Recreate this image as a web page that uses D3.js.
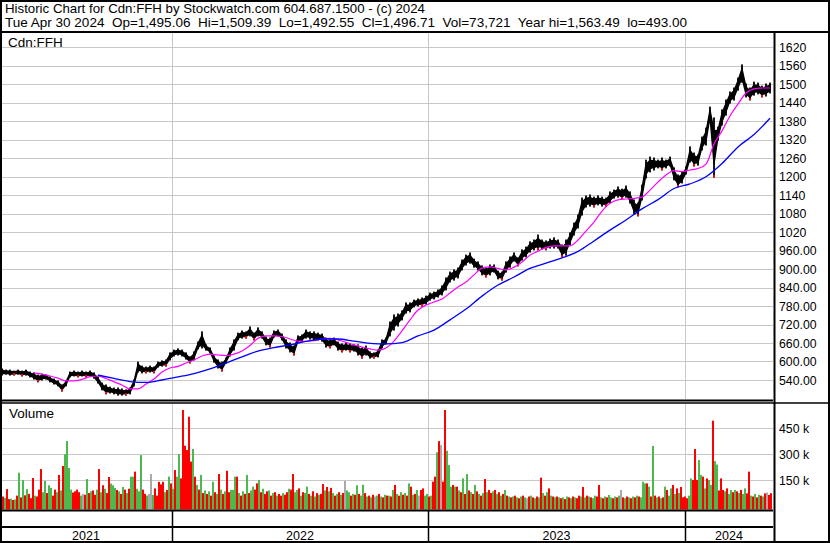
<!DOCTYPE html>
<html><head><meta charset="utf-8">
<script src="https://cdn.jsdelivr.net/npm/d3@7"></script>
<style>html,body{margin:0;padding:0;background:#fff}svg{display:block}text{font-family:"Liberation Sans",Arial,sans-serif;fill:#000}</style>
</head><body><svg id="c" width="830" height="543"></svg>
<script>
const headerLines = [
  "Historic Chart for Cdn:FFH by Stockwatch.com 604.687.1500 - (c) 2024",
  "Tue Apr 30 2024  Op=1,495.06  Hi=1,509.39  Lo=1,492.55  Cl=1,496.71  Vol=73,721  Year hi=1,563.49  lo=493.00"
];
const symbolLabel = "Cdn:FFH";
const volumeLabel = "Volume";
const yearLabels = ["2021", "2022", "2023", "2024"];
const yearStartBars = [0, 86, 214, 342.5];
const barCount = 386;
const priceTicks = [540,600,660,720,780,840,900,960,1020,1080,1140,1200,1260,1320,1380,1440,1500,1560,1620];
const priceTickLabels = ["540.00","600.00","660.00","720.00","780.00","840.00","900.00","960.00","1020","1080","1140","1200","1260","1320","1380","1440","1500","1560","1620"];
const volTicks = [150, 300, 450];
const volTickLabels = ["150 k", "300 k", "450 k"];

// price points: one per two bars
const priceHigh = [
576,572,572,569,572,569,572,566,563,556,
559,556,550,543,537,524,537,566,569,566,
569,566,569,563,550,530,524,517,514,514,
511,508,514,540,598,585,582,585,582,598,
602,605,628,637,641,637,628,615,631,663,
696,654,644,618,605,598,611,644,670,692,
699,696,712,692,709,696,679,676,699,702,
689,670,660,650,683,686,702,696,696,692,
689,676,670,676,663,657,660,657,654,654,
644,650,631,628,637,670,676,728,751,754,
764,790,790,799,803,806,812,822,825,832,
845,871,890,897,903,929,945,952,932,923,
910,903,913,913,893,890,923,939,952,936,
962,971,988,994,1010,994,991,997,1001,994,
978,994,1017,1049,1075,1130,1137,1140,1133,1137,
1133,1130,1150,1156,1166,1159,1169,1150,1124,1114,
1172,1253,1263,1260,1253,1260,1253,1263,1228,1205,
1215,1231,1296,1276,1270,1328,1357,1425,1390,1360,
1416,1448,1474,1487,1519,1562,1500,1487,1506,1503,
1493,1500,1503];
const priceLow = [
556,559,556,556,559,553,556,550,543,534,
540,543,534,527,521,504,521,550,553,550,
553,550,553,546,530,508,495,498,495,491,
491,491,495,521,566,563,563,566,563,582,
585,585,605,618,621,618,608,595,605,641,
644,637,628,598,579,569,595,618,637,670,
676,676,683,670,683,676,654,647,679,683,
670,644,631,621,663,666,676,673,670,670,
666,647,644,654,637,631,637,631,634,621,
611,621,611,611,615,644,657,683,702,715,
735,757,761,777,780,780,786,799,803,809,
816,832,858,864,871,897,913,919,906,897,
881,874,881,890,868,864,890,906,926,910,
929,939,955,962,962,965,962,968,968,968,
939,945,978,1010,1033,1075,1101,1104,1101,1108,
1104,1104,1114,1130,1133,1127,1133,1114,1078,1072,
1124,1195,1215,1221,1228,1221,1228,1234,1189,1166,
1179,1208,1247,1234,1237,1286,1302,1383,1198,1318,
1367,1399,1438,1448,1480,1506,1458,1448,1464,1468,
1458,1461,1471];

// moving averages
const maFast = [
563,559,553,546,537,537,542,551,553,
545,534,524,511,511,527,543,566,579,
584,595,605,618,624,621,619,624,634,
652,675,683,683,681,673,666,665,668,
673,675,670,662,654,647,641,637,644,
666,699,735,767,783,793,803,822,842,
858,881,903,907,902,897,906,923,945,
958,970,975,975,975,994,1023,1052,1088,
1113,1124,1127,1129,1133,1156,1182,1205,1219,
1216,1221,1226,1240,1305,1348,1396,1435,1471,
1484,1487,1487];
const maFastStartBar = 17, maFastStepBars = 4;
const maSlow = [
556,545,535,532,540,550,561,576,595,615,
634,645,654,665,673,673,666,659,657,661,
683,702,735,770,812,848,874,902,919,936,
957,991,1026,1059,1095,1125,1161,1176,1199,1242,
1296,1336,1389];
const maSlowStartBar = 49, maSlowStepBars = 8;

// volume (thousands) per bar, and bar colour code (g up, r down, n unchanged)
const volume = [
45,55,48,98,40,42,35,38,60,193,
50,150,62,98,70,45,162,60,55,95,
214,80,145,75,120,105,60,95,80,180,
90,232,300,376,220,95,78,85,95,80,
60,70,65,156,75,85,90,65,95,214,
80,120,100,75,168,130,120,105,93,85,
70,110,95,75,100,170,170,199,100,85,
295,95,70,60,70,185,64,102,60,140,
125,140,80,93,170,131,100,208,170,301,
160,556,349,324,517,257,330,170,122,95,
180,75,90,70,85,60,141,80,70,185,
95,70,85,204,80,93,93,170,170,75,
60,85,70,180,75,90,112,95,131,151,
80,100,70,85,90,60,75,80,60,70,
60,75,65,80,100,95,185,80,93,102,
60,80,75,112,70,60,85,55,75,65,
70,127,90,110,85,105,75,60,70,80,
65,75,145,90,80,60,70,65,120,70,
60,123,75,55,60,50,65,55,60,70,
55,50,65,60,60,55,93,122,70,60,
80,65,75,60,131,112,65,70,93,60,
93,102,60,70,55,60,141,170,311,376,
353,141,556,320,237,112,122,112,112,90,
80,160,70,185,90,80,70,122,85,70,
60,75,156,80,93,75,85,93,70,80,
60,70,93,60,55,50,55,60,50,45,
55,60,50,45,55,60,50,45,55,50,
164,75,60,80,102,60,55,50,55,50,
45,50,40,55,50,45,55,50,45,60,
55,110,50,60,55,50,45,60,55,122,
50,45,55,50,64,50,45,55,50,60,
93,50,45,55,50,45,55,50,60,55,
50,141,131,131,112,55,348,60,50,55,
45,50,112,93,60,102,122,70,102,75,
110,50,55,45,60,160,151,330,151,266,
180,170,102,160,151,122,494,260,240,90,
160,93,85,102,70,93,80,93,85,75,
93,70,102,73,199,60,55,70,50,65,
60,55,73,78,64,74];
const volumeColor = (
"grgrrgrgrg"+"rgrgrrrgrr"+"rggrggrrgr"+"grgggg"+"rrrr"+"gnrgrgrrgr"+
"grgrrgggrg"+"rgrgrggrgg"+"grrgnngrrr"+"rrgrgrgrgg"+"rrrrrrgrgr"+
"grgrgrgrgr"+"grgrrgggrg"+"rgrgrggrrg"+"rgrrgrgrgr"+"rgrrgrrggr"+
"grggrgrgrg"+"rrgrgrgrgr"+"grngg"+"rgrgr"+"ggrgrgrngr"+"grgrgrgrgr"+
"grgrgrgrgn"+"rrggrgrrgr"+"nrrgggrgrg"+"rgrgrgrgrg"+"rgrgrrgrgr"+
"grgrgrgrgr"+"grgnrgrgrg"+"rgrgrgrgrg"+"rgrgrgrgrr"+"grgrgrggrr"+
"grgrggrgrg"+"nrgrgrgrgr"+"gggrgrgrgr"+"grgrggrgrg"+"rrrrggrrrg"+
"grgrggrggr"+"rrgrggrgrg"+"rggrrgrgrg"+"rgrnrr").split("");

const colors = {g: "#4db84d", r: "#ff0000", n: "#a9a9a9"};
const headerWidths = [420, 682];

const svg = d3.select("#c");
const W = 830, H = 543;
const plotRight = 773;

svg.append("rect").attr("width", W).attr("height", H).attr("fill", "#fff");

const x = d3.scaleLinear().domain([0, barCount]).range([0, 772]);
const y = d3.scaleLinear().domain([540, 1620]).range([380, 47]);
const vy = d3.scaleLinear().domain([0, 450]).range([506, 428.3]);
const volBase = 509.5;

// gridlines
const grid = svg.append("g").attr("stroke", "#c8c8c8").attr("stroke-width", 1);
priceTicks.forEach(t => grid.append("line").attr("x1", 0).attr("x2", plotRight).attr("y1", Math.round(y(t)) + 0.5).attr("y2", Math.round(y(t)) + 0.5));
volTicks.forEach(t => grid.append("line").attr("x1", 0).attr("x2", plotRight).attr("y1", Math.round(vy(t)) + 0.5).attr("y2", Math.round(vy(t)) + 0.5));
yearStartBars.slice(1).forEach(b => {
  const xx = Math.round(x(b)) + 0.5;
  grid.append("line").attr("x1", xx).attr("x2", xx).attr("y1", 33).attr("y2", 399);
  grid.append("line").attr("x1", xx).attr("x2", xx).attr("y1", 404).attr("y2", 510);
});

// volume bars
svg.append("g").selectAll("rect").data(volume).join("rect")
  .attr("x", (d, i) => x(i))
  .attr("width", (d, i) => x(i + 1) - x(i))
  .attr("y", d => vy(d))
  .attr("height", d => volBase - vy(d))
  .attr("fill", (d, i) => colors[volumeColor[i]] || colors.g);

// price: inner body ribbon plus full high-low ticks
const pts = priceHigh.map((h, j) => ({bar: 2 * j + 1, hi: h, lo: priceLow[j]}));
const pg = svg.append("g");
pg.append("path")
  .attr("d", d3.area().x(d => x(d.bar))
    .y0(d => y(d.lo + (d.hi - d.lo) * 0.22))
    .y1(d => y(d.hi - (d.hi - d.lo) * 0.22))(pts))
  .attr("fill", "#000").attr("stroke", "#000").attr("stroke-width", 1.3);
pg.selectAll("rect").data(pts).join("rect")
  .attr("x", d => x(d.bar) - 0.9)
  .attr("width", 1.8)
  .attr("y", d => y(d.hi) - 0.5)
  .attr("height", d => Math.max(1, y(d.lo) - y(d.hi) + 1))
  .attr("fill", "#000");
// red marks at local lows
const lows = pts.filter((d, j) => j > 0 && j < pts.length - 1 && d.lo <= pts[j - 1].lo && d.lo < pts[j + 1].lo);
pg.selectAll(".rm").data(lows).join("rect").attr("class", "rm")
  .attr("x", d => x(d.bar) - 1).attr("width", 2)
  .attr("y", d => y(d.lo) - 2).attr("height", 2).attr("fill", "#ff0000");

// moving averages
const fastPts = maFast.map((v, i) => [x(maFastStartBar + i * maFastStepBars), y(v)]);
const slowPts = maSlow.map((v, i) => [x(maSlowStartBar + i * maSlowStepBars), y(v)]);
svg.append("path").attr("d", d3.line().curve(d3.curveMonotoneX)(fastPts))
  .attr("fill", "none").attr("stroke", "#ff00ff").attr("stroke-width", 1.2);
svg.append("path").attr("d", d3.line().curve(d3.curveMonotoneX)(slowPts))
  .attr("fill", "none").attr("stroke", "#0000ff").attr("stroke-width", 1.3);

// frame lines
const fr = svg.append("g").attr("stroke", "#000");
function ln(x1, y1, x2, y2, w) { fr.append("line").attr("x1", x1).attr("y1", y1).attr("x2", x2).attr("y2", y2).attr("stroke-width", w); }
ln(0, 32, W, 32, 2);
ln(0, 400.5, plotRight, 400.5, 2);
ln(0, 403, W, 403, 1.5);
ln(0, 510.5, plotRight, 510.5, 2);
ln(0, 527, plotRight, 527, 2);
ln(774.5, 32, 774.5, H, 2);
yearStartBars.slice(1).forEach(b => { const xx = Math.round(x(b)) + 0.5; ln(xx, 511, xx, H, 1.5); });
fr.append("rect").attr("x", 1).attr("y", 1).attr("width", W - 2).attr("height", H - 2).attr("fill", "none").attr("stroke-width", 2);

// texts
svg.append("g").selectAll("text").data(headerLines).join("text")
  .attr("x", 5).attr("y", (d, i) => 13 + i * 13.5)
  .attr("textLength", (d, i) => headerWidths[i]).attr("lengthAdjust", "spacingAndGlyphs")
  .style("font-size", "13.5px").style("white-space", "pre").text(d => d);
svg.append("text").attr("x", 8).attr("y", 47).style("font-size", "13.5px").text(symbolLabel);
svg.append("text").attr("x", 9).attr("y", 418).style("font-size", "13.5px").text(volumeLabel);

svg.append("g").selectAll("text").data(priceTicks).join("text")
  .attr("x", 779).attr("y", d => y(d)).attr("dy", "0.4em")
  .style("font-size", "12.3px").text((d, i) => priceTickLabels[i]);
svg.append("g").selectAll("text").data(volTicks).join("text")
  .attr("x", 779).attr("y", d => vy(d)).attr("dy", "0.4em")
  .style("font-size", "12.3px").text((d, i) => volTickLabels[i]);

const bounds = yearStartBars.map(b => x(b)).concat([plotRight]);
svg.append("g").selectAll("text").data(yearLabels).join("text")
  .attr("x", (d, i) => (bounds[i] + bounds[i + 1]) / 2).attr("y", 539.5)
  .attr("text-anchor", "middle").style("font-size", "12.5px").text(d => d);
</script></body></html>
